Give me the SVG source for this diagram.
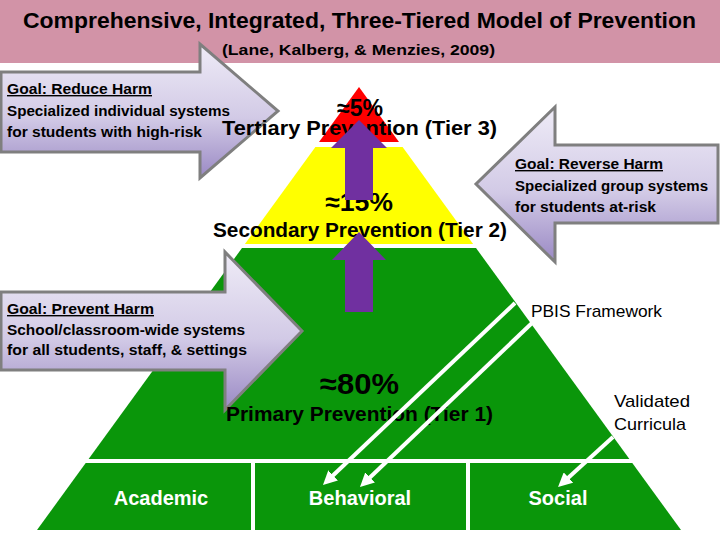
<svg xmlns="http://www.w3.org/2000/svg" width="720" height="540" viewBox="0 0 720 540">
<style>
  .t { font-family: "Liberation Sans", Arial, sans-serif; font-weight: bold; fill: #000; }
  .g { font-family: "Liberation Sans", Arial, sans-serif; font-weight: bold; font-size: 14px; fill: #000; }
  .u { text-decoration: underline; }
  .w { font-family: "Liberation Sans", Arial, sans-serif; font-weight: bold; font-size: 20px; fill: #fff; text-anchor: middle; }
  .n { font-family: "Liberation Sans", Arial, sans-serif; font-size: 17px; fill: #000; }
  .goal { fill: url(#lav); stroke: #7f7f7f; stroke-width: 3; stroke-linejoin: miter; }
  .up { fill: #7030a0; }
  .conn { stroke: #fff; stroke-width: 4; fill: none; marker-end: url(#wh); }
  .sep { stroke: #fff; stroke-width: 4; }
</style>
<defs>
  <linearGradient id="lav" x1="0" y1="0" x2="0" y2="1">
    <stop offset="0" stop-color="#efecf7"/>
    <stop offset="0.55" stop-color="#d2cae6"/>
    <stop offset="1" stop-color="#9a89c4"/>
  </linearGradient>
  <marker id="wh" viewBox="0 0 14 14" refX="5" refY="7" markerWidth="14" markerHeight="14" markerUnits="userSpaceOnUse" orient="auto">
    <path d="M0,0 L14,7 L0,14 z" fill="#fff"/>
  </marker>
</defs>
<rect width="720" height="540" fill="#fff"/>

<g id="header">
  <rect x="0" y="0" width="720" height="63" fill="#d293a7"/>
  <text class="t" x="23" y="28" font-size="22" textLength="673" lengthAdjust="spacingAndGlyphs">Comprehensive, Integrated, Three-Tiered Model of Prevention</text>
  <text class="t" x="222" y="55" font-size="15" textLength="273" lengthAdjust="spacingAndGlyphs">(Lane, Kalberg, &amp; Menzies, 2009)</text>
</g>

<g id="tier3">
  <polygon points="359,87 399,142 319,142" fill="#ff0000"/>
</g>
<g id="tier2">
  <polygon points="315.4,147 402.6,147 473.1,244 244.9,244" fill="#ffff00"/>
</g>
<g id="tier1">
  <polygon points="242,248 476,248 681,530 37,530" fill="#0a960a"/>
  <line class="sep" x1="60" y1="461" x2="660" y2="461"/>
  <line class="sep" x1="253" y1="461" x2="253" y2="532"/>
  <line class="sep" x1="468" y1="461" x2="468" y2="532"/>
</g>

<g id="goal-reduce">
  <path class="goal" d="M1,72 H200 V44 L278,111 L200,178 V152 H1 Z"/>
  <text class="g u" x="7" y="94" textLength="145" lengthAdjust="spacingAndGlyphs">Goal: Reduce Harm</text>
  <text class="g" x="7" y="116" textLength="223" lengthAdjust="spacingAndGlyphs">Specialized individual systems</text>
  <text class="g" x="7" y="137" textLength="195" lengthAdjust="spacingAndGlyphs">for students with high-risk</text>
</g>

<g id="goal-reverse">
  <path class="goal" d="M718,145 H555 V107 L476,184 L555,262 V223 H718 Z"/>
  <text class="g u" x="515" y="169" textLength="148" lengthAdjust="spacingAndGlyphs">Goal: Reverse Harm</text>
  <text class="g" x="515" y="191" textLength="193" lengthAdjust="spacingAndGlyphs">Specialized group systems</text>
  <text class="g" x="515" y="212" textLength="141" lengthAdjust="spacingAndGlyphs">for students at-risk</text>
</g>

<g id="goal-prevent">
  <path class="goal" d="M1,292 H225 V252 L302,331 L225,410 V370 H1 Z"/>
  <text class="g u" x="7" y="314" textLength="147" lengthAdjust="spacingAndGlyphs">Goal: Prevent Harm</text>
  <text class="g" x="7" y="335" textLength="238" lengthAdjust="spacingAndGlyphs">School/classroom-wide systems</text>
  <text class="g" x="7" y="355" textLength="240" lengthAdjust="spacingAndGlyphs">for all students, staff, &amp; settings</text>
</g>

<g id="labels-tiers">
  <text class="t" x="337" y="116" font-size="23" textLength="46" lengthAdjust="spacingAndGlyphs">≈5%</text>
  <text class="t" x="222" y="135" font-size="20" textLength="275" lengthAdjust="spacingAndGlyphs">Tertiary Prevention  (Tier 3)</text>
  <text class="t" x="325" y="211" font-size="26" textLength="68" lengthAdjust="spacingAndGlyphs">≈15%</text>
  <text class="t" x="213" y="237" font-size="20" textLength="294" lengthAdjust="spacingAndGlyphs">Secondary Prevention (Tier 2)</text>
  <text class="t" x="320" y="394" font-size="29" textLength="79" lengthAdjust="spacingAndGlyphs">≈80%</text>
  <text class="t" x="226" y="421" font-size="20" textLength="267" lengthAdjust="spacingAndGlyphs">Primary Prevention (Tier 1)</text>
</g>

<g id="up-arrows">
  <path class="up" d="M359,120 L387,148 H373 V200 H345 V148 H331 Z"/>
  <path class="up" d="M359,232 L386,260 H373 V312 H345 V260 H332 Z"/>
</g>

<g id="cells">
  <text class="w" x="161" y="505">Academic</text>
  <text class="w" x="360" y="505">Behavioral</text>
  <text class="w" x="558" y="505">Social</text>
</g>

<g id="connectors">
  <line class="conn" x1="515" y1="303" x2="329.5" y2="478.8"/>
  <line class="conn" x1="532" y1="323" x2="366.5" y2="480.8"/>
  <line class="conn" x1="613" y1="437" x2="564.7" y2="480.9"/>
</g>

<g id="connector-labels">
  <text class="n" x="531" y="317" textLength="131" lengthAdjust="spacingAndGlyphs">PBIS Framework</text>
  <text class="n" x="614" y="407" textLength="76" lengthAdjust="spacingAndGlyphs">Validated</text>
  <text class="n" x="614" y="430" textLength="72" lengthAdjust="spacingAndGlyphs">Curricula</text>
</g>
</svg>
